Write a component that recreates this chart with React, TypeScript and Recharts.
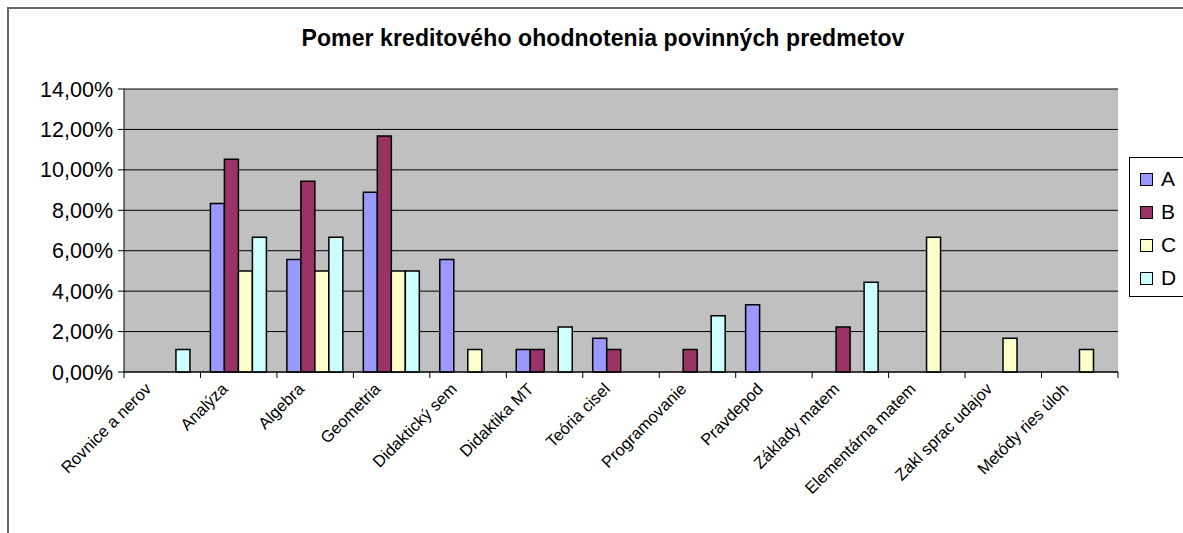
import React from 'react'
import { BarChart, Bar, XAxis, YAxis, CartesianGrid } from 'recharts'

const categories = [
  'Rovnice a nerov',
  'Analýza',
  'Algebra',
  'Geometria',
  'Didaktický sem',
  'Didaktika MT',
  'Teória cisel',
  'Programovanie',
  'Pravdepod',
  'Základy matem',
  'Elementárna matem',
  'Zakl sprac udajov',
  'Metódy ries úloh',
]

// percentages
const seriesA = [0, 8.33, 5.56, 8.89, 5.56, 1.11, 1.67, 0, 3.33, 0, 0, 0, 0]
const seriesB = [0, 10.53, 9.44, 11.67, 0, 1.11, 1.11, 1.11, 0, 2.22, 0, 0, 0]
const seriesC = [0, 5, 5, 5, 1.11, 0, 0, 0, 0, 0, 6.67, 1.67, 1.11]
const seriesD = [1.11, 6.67, 6.67, 5, 0, 2.22, 0, 2.78, 0, 4.44, 0, 0, 0]

const yTicks = [0, 2, 4, 6, 8, 10, 12, 14]

const seriesNames = ['A', 'B', 'C', 'D']
const colors: Record<string, string> = {
  A: '#9999FF',
  B: '#993366',
  C: '#FFFFCC',
  D: '#CCFFFF',
}

const data = categories.map((name, i) => ({
  name,
  A: seriesA[i],
  B: seriesB[i],
  C: seriesC[i],
  D: seriesD[i],
}))

const FONT = '"Liberation Sans", Arial, sans-serif'
const PLOT_LEFT = 124
const PLOT_RIGHT = 1118
const band = (PLOT_RIGHT - PLOT_LEFT) / categories.length

function CategoryTick(props: any) {
  const { x, y, payload, index } = props
  const left = x - band / 2
  const ax = x - 10
  const ay = y + 18
  return (
    <g>
      <line x1={left} y1={y} x2={left} y2={y + 6} stroke="#000" />
      {index === categories.length - 1 && (
        <line x1={x + band / 2} y1={y} x2={x + band / 2} y2={y + 6} stroke="#000" />
      )}
      <text
        x={ax}
        y={ay}
        transform={`rotate(-45 ${ax} ${ay})`}
        textAnchor="end"
        fontSize={16.5}
        fontFamily={FONT}
        fill="#000"
      >
        {payload.value}
      </text>
    </g>
  )
}

function LegendBox() {
  return (
    <div
      style={{
        position: 'absolute',
        left: 1129,
        top: 157,
        width: 80,
        height: 140,
        border: '1px solid #000',
        background: '#fff',
        boxSizing: 'border-box',
        fontFamily: FONT,
      }}
    >
      {seriesNames.map((s, i) => (
        <div key={s} style={{ position: 'absolute', left: 10, top: 8 + i * 33, height: 26, display: 'flex', alignItems: 'center' }}>
          <div style={{ width: 11, height: 11, background: colors[s], border: '1.5px solid #000', marginRight: 8 }} />
          <span style={{ fontSize: 21, color: '#000', lineHeight: '26px' }}>{s}</span>
        </div>
      ))}
    </div>
  )
}

export default function App() {
  return (
    <div style={{ position: 'absolute', left: 0, top: 0, width: 1183, height: 533, overflow: 'hidden', background: '#fff' }}>
      <style>{'body{overflow:hidden}'}</style>
      <div
        style={{
          position: 'absolute',
          left: 7,
          top: 7,
          width: 1300,
          height: 600,
          borderLeft: '2px solid #666',
          borderTop: '2px solid #666',
        }}
      />
      <div
        style={{
          position: 'absolute',
          left: 0,
          top: 25,
          width: 1206,
          textAlign: 'center',
          fontFamily: FONT,
          fontWeight: 'bold',
          fontSize: 23,
          lineHeight: '26px',
          color: '#000',
          letterSpacing: 0.1,
        }}
      >
        Pomer kreditového ohodnotenia povinných predmetov
      </div>
      <div style={{ position: 'absolute', left: 0, top: 0 }}>
        <BarChart
          width={1183}
          height={533}
          data={data}
          margin={{ top: 89, right: 1183 - PLOT_RIGHT, left: 0, bottom: 0 }}
          barCategoryGap="13%"
          barGap={0}
        >
          <CartesianGrid vertical={false} fill="#C0C0C0" stroke="#000" fillOpacity={1} />
          <XAxis
            dataKey="name"
            height={161}
            interval={0}
            axisLine={{ stroke: '#000' }}
            tickLine={false}
            tickSize={0}
            tickMargin={0}
            tick={<CategoryTick />}
          />
          <YAxis
            width={PLOT_LEFT}
            domain={[0, 14]}
            ticks={yTicks}
            interval={0}
            axisLine={{ stroke: '#000' }}
            tickLine={{ stroke: '#000' }}
            tickSize={6}
            tickMargin={5}
            tickFormatter={(v: number) => v.toFixed(2).replace('.', ',') + '%'}
            tick={{ fill: '#000', fontSize: 21.5, fontFamily: FONT }}
          />
          <YAxis
            yAxisId="r"
            orientation="right"
            width={0}
            domain={[0, 14]}
            tick={false}
            tickLine={false}
            axisLine={{ stroke: '#808080' }}
          />
          {seriesNames.map((s) => (
            <Bar
              key={s}
              dataKey={s}
              fill={colors[s]}
              stroke="#000"
              strokeWidth={1.5}
              isAnimationActive={false}
            />
          ))}
        </BarChart>
      </div>
      <LegendBox />
    </div>
  )
}
